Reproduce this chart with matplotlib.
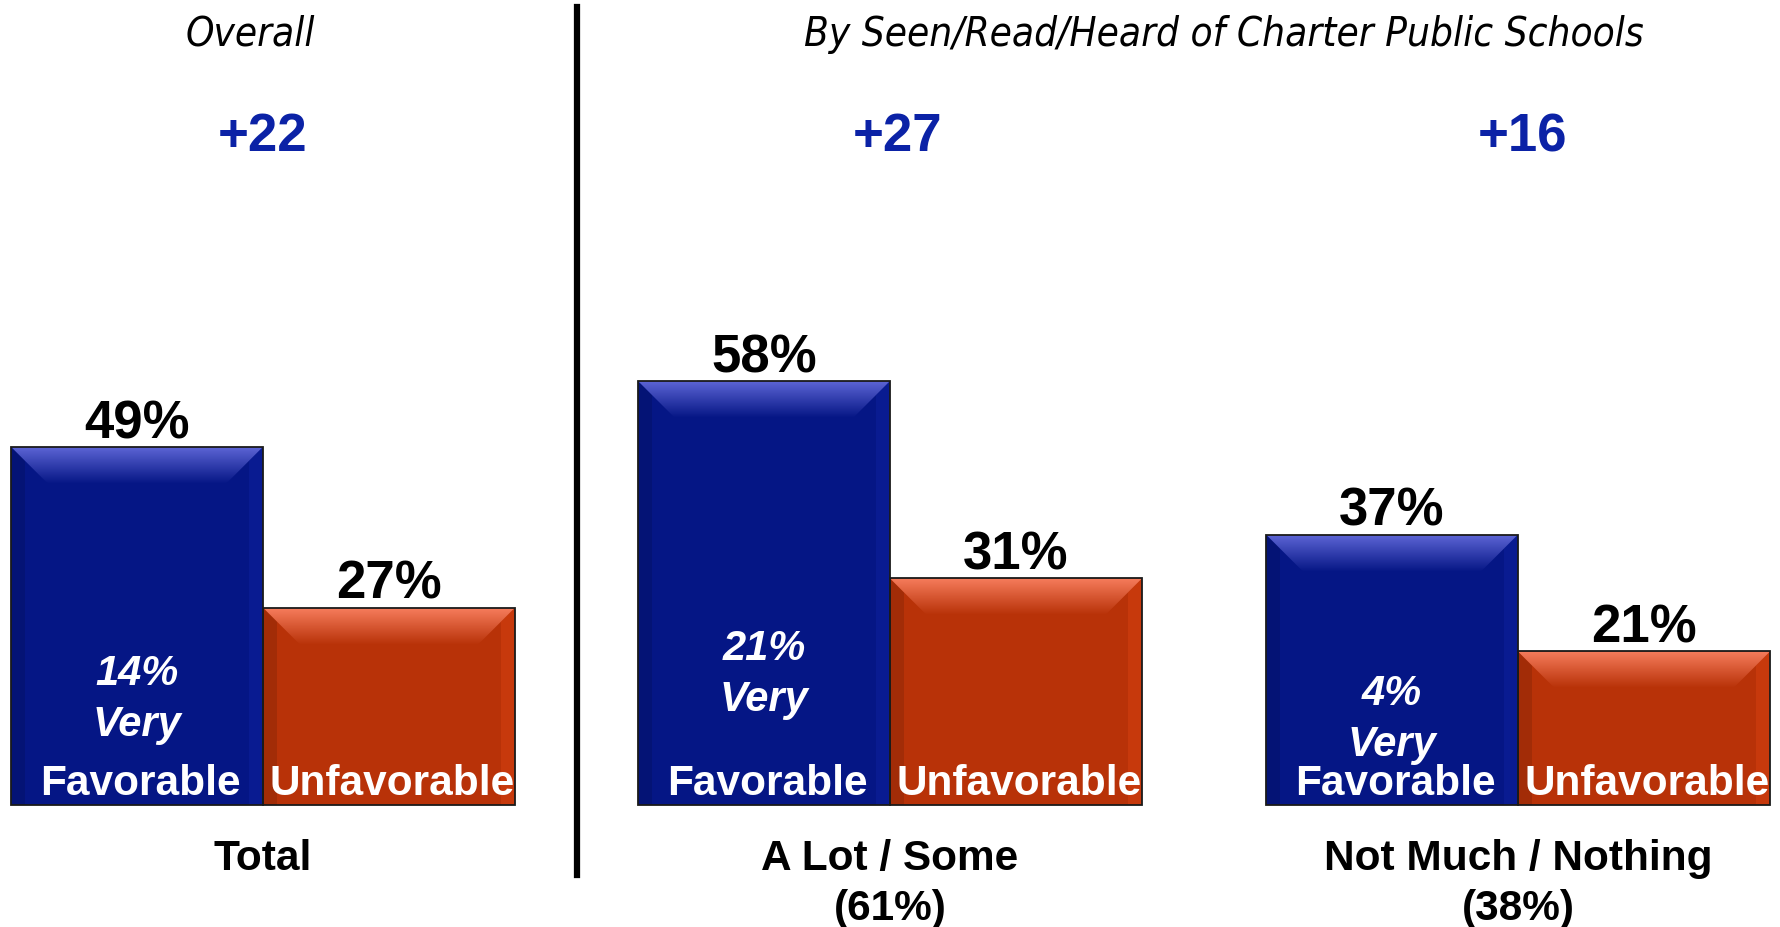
import numpy as np
import matplotlib
matplotlib.use('Agg')
import matplotlib.pyplot as plt
from matplotlib.patches import Polygon

# Data
groups = ['Total', 'A Lot / Some\n(61%)', 'Not Much / Nothing\n(38%)']
favorable = [49, 58, 37]
unfavorable = [27, 31, 21]
very_favorable = [14, 21, 4]
headers = ['Overall', 'By Seen/Read/Heard of Charter Public Schools']

# Layout (pixels of the 1781x927 canvas)
W, H = 1781, 927
group_centers = [263, 890, 1518]
bar_w = 252
base_px = 805                 # baseline from top
px_per_pct = 7.31
y_bottom = -(H - base_px) / px_per_pct
y_top = y_bottom + H / px_per_pct
very_px = [685, 660, 705]     # baseline of the "N%" line inside blue bar
net_dx = [0, 8, 5]

def ypx(p):
    return y_top - p / px_per_pct

BLUE, BLUE_LT = np.array([5, 22, 133]) / 255, np.array([92, 100, 212]) / 255
RED, RED_LT = np.array([184, 50, 8]) / 255, np.array([246, 124, 92]) / 255

plt.rcParams['font.family'] = ['Liberation Sans', 'DejaVu Sans']

fig = plt.figure(figsize=(W / 100, H / 100), dpi=100)
ax = fig.add_axes([0, 0, 1, 1])


def bevel_bar(x0, h, base, light):
    ax.bar(x0, h, width=bar_w, align='edge', color=base, edgecolor='none', zorder=2)
    d = 37
    dy = d / px_per_pct
    # top bevel with vertical gradient
    top = Polygon([(x0, h), (x0 + bar_w, h), (x0 + bar_w - d, h - dy), (x0 + d, h - dy)],
                  closed=True, facecolor='none', edgecolor='none')
    ax.add_patch(top)
    grad = np.linspace(light, base, 60).reshape(60, 1, 3)
    im = ax.imshow(grad, extent=[x0, x0 + bar_w, h - dy, h], aspect='auto', origin='upper',
                   zorder=3, interpolation='bilinear')
    im.set_clip_path(top)
    # side shading
    s = 14
    left = Polygon([(x0, 0), (x0, h), (x0 + s, h - s / px_per_pct), (x0 + s, 0)],
                   closed=True, facecolor=base * 0.88, edgecolor='none', zorder=2.5)
    right = Polygon([(x0 + bar_w, 0), (x0 + bar_w, h), (x0 + bar_w - s, h - s / px_per_pct),
                     (x0 + bar_w - s, 0)], closed=True,
                    facecolor=np.minimum(base * 1.06 + 0.015, 1), edgecolor='none', zorder=2.5)
    ax.add_patch(left)
    ax.add_patch(right)
    ax.bar(x0, h, width=bar_w, align='edge', color='none', edgecolor='#1a1a1a', lw=1.3, zorder=4)


for i, c in enumerate(group_centers):
    fav, unf = favorable[i], unfavorable[i]
    bevel_bar(c - bar_w, fav, BLUE, BLUE_LT)
    bevel_bar(c, unf, RED, RED_LT)
    bx, rx = c - bar_w / 2, c + bar_w / 2
    # value labels
    ax.text(bx, fav + 1.2, f'{fav}%', ha='center', va='baseline', fontsize=38, fontweight='bold', zorder=5)
    ax.text(rx, unf + 1.2, f'{unf}%', ha='center', va='baseline', fontsize=38, fontweight='bold', zorder=5)
    # inside labels
    ax.text(bx + 3, ypx(795), 'Favorable', ha='center', va='baseline', fontsize=30.5,
            fontweight='bold', color='white', zorder=5)
    ax.text(rx + 3, ypx(795), 'Unfavorable', ha='center', va='baseline', fontsize=30.5,
            fontweight='bold', color='white', zorder=5)
    ax.text(bx, ypx(very_px[i]), f'{very_favorable[i]}%', ha='center', va='baseline', fontsize=30,
            fontweight='bold', style='italic', color='white', zorder=5)
    ax.text(bx, ypx(very_px[i] + 51), 'Very', ha='center', va='baseline', fontsize=30,
            fontweight='bold', style='italic', color='white', zorder=5)
    # net score
    ax.text(c + net_dx[i], ypx(137), f'+{fav - unf}', ha='center', va='center', fontsize=38,
            fontweight='bold', color='#0b22a6')
    # category label
    for j, line in enumerate(groups[i].split('\n')):
        ax.text(c, ypx(870 + 50 * j), line, ha='center', va='baseline', fontsize=30.5,
                fontweight='bold')

# headers
ax.text(250, ypx(34), headers[0], ha='center', va='center', fontsize=29, style='italic',
        family='DejaVu Sans', fontstretch='condensed')
ax.text(1224, ypx(34), headers[1], ha='center', va='center', fontsize=29, style='italic',
        family='DejaVu Sans', fontstretch='condensed')

# divider
ax.axvline(577, ymin=1 - 875 / H, ymax=1 - 7 / H, color='black', lw=4.5)

ax.set_xlim(0, W)
ax.set_ylim(y_bottom, y_top)
ax.axis('off')

fig.savefig('out.png', dpi=100)
